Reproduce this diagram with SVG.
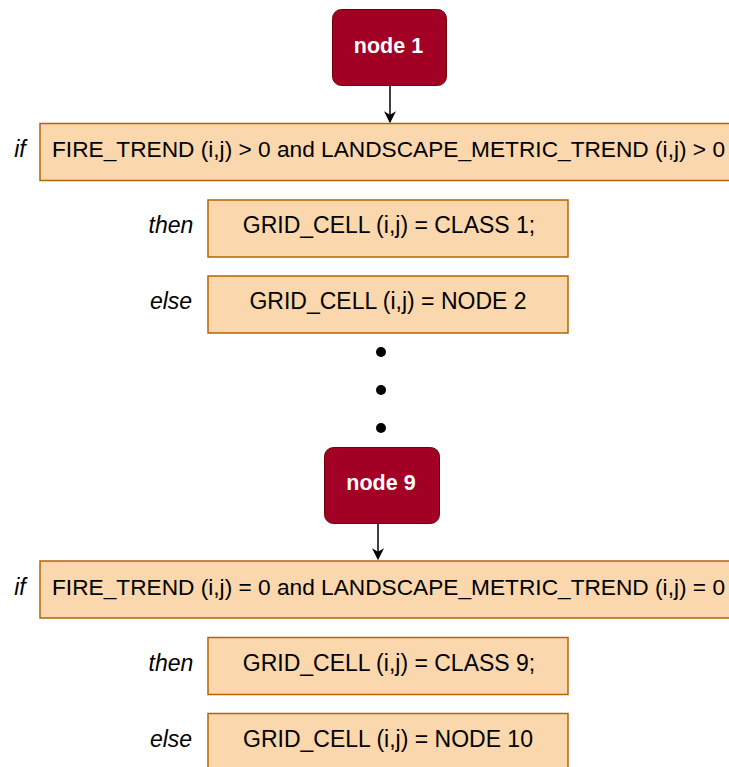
<svg xmlns="http://www.w3.org/2000/svg" width="729" height="767" viewBox="0 0 729 767">
  <defs>
    <marker id="arrow" viewBox="0 0 10 10" refX="9" refY="5" markerWidth="12" markerHeight="12" markerUnits="userSpaceOnUse" orient="auto">
      <path d="M0,0 L10,5 L0,10 L3,5 Z" fill="#000"/>
    </marker>
    <style>
      .node rect { fill: #a20025; stroke: #6f0000; stroke-width: 1; }
      .node text { fill: #ffffff; font-family: "Liberation Sans", Arial, sans-serif; font-size: 21.5px; font-weight: bold; text-anchor: middle; }
      .box rect { fill: #fad7ac; stroke: #b46504; stroke-width: 1.5; }
      .box text { fill: #000; font-family: "Liberation Sans", Arial, sans-serif; font-size: 23px; text-anchor: middle; }
      .box text.cond { font-size: 22.5px; }
      .kw { fill: #000; font-family: "Liberation Sans", Arial, sans-serif; font-size: 23px; font-style: italic; text-anchor: middle; }
      .edge { stroke: #000; stroke-width: 1.5; fill: none; }
      .dot { fill: #000; }
    </style>
  </defs>

  <!-- decision node 1 -->
  <g id="node1" class="node">
    <rect x="332.5" y="9.5" width="114" height="76" rx="9"/>
    <text x="388.5" y="53">node 1</text>
  </g>

  <g id="if1" class="box">
    <rect x="40" y="123.5" width="700" height="57"/>
    <text class="cond" x="388.5" y="157" textLength="673" lengthAdjust="spacingAndGlyphs">FIRE_TREND (i,j) &gt; 0 and LANDSCAPE_METRIC_TREND (i,j) &gt; 0</text>
  </g>
  <g id="then1" class="box">
    <rect x="208" y="200" width="360" height="57"/>
    <text x="389" y="233">GRID_CELL (i,j) = CLASS 1;</text>
  </g>
  <g id="else1" class="box">
    <rect x="208" y="276" width="360" height="57"/>
    <text x="388" y="309">GRID_CELL (i,j) = NODE 2</text>
  </g>

  <!-- ellipsis between nodes -->
  <g id="ellipsis">
    <circle class="dot" cx="381" cy="352" r="5"/>
    <circle class="dot" cx="381" cy="390" r="5"/>
    <circle class="dot" cx="381" cy="428" r="5"/>
  </g>

  <!-- decision node 9 -->
  <g id="node9" class="node">
    <rect x="324.5" y="447.5" width="115" height="76" rx="9"/>
    <text x="381" y="490">node 9</text>
  </g>

  <g id="if9" class="box">
    <rect x="40" y="561" width="700" height="57"/>
    <text class="cond" x="388.5" y="595" textLength="673" lengthAdjust="spacingAndGlyphs">FIRE_TREND (i,j) = 0 and LANDSCAPE_METRIC_TREND (i,j) = 0</text>
  </g>
  <g id="then9" class="box">
    <rect x="208" y="637.5" width="360" height="57"/>
    <text x="389" y="671">GRID_CELL (i,j) = CLASS 9;</text>
  </g>
  <g id="else9" class="box">
    <rect x="208" y="713.5" width="360" height="57"/>
    <text x="388" y="747">GRID_CELL (i,j) = NODE 10</text>
  </g>

  <!-- keywords -->
  <g id="keywords">
    <text class="kw" x="20" y="157">if</text>
    <text class="kw" x="171" y="233">then</text>
    <text class="kw" x="171" y="309">else</text>
    <text class="kw" x="20" y="595">if</text>
    <text class="kw" x="171" y="671">then</text>
    <text class="kw" x="171" y="747">else</text>
  </g>

  <g id="connectors">
    <path class="edge" d="M390,86 L390,122" marker-end="url(#arrow)"/>
    <path class="edge" d="M378,524 L378,559" marker-end="url(#arrow)"/>
  </g>
</svg>
